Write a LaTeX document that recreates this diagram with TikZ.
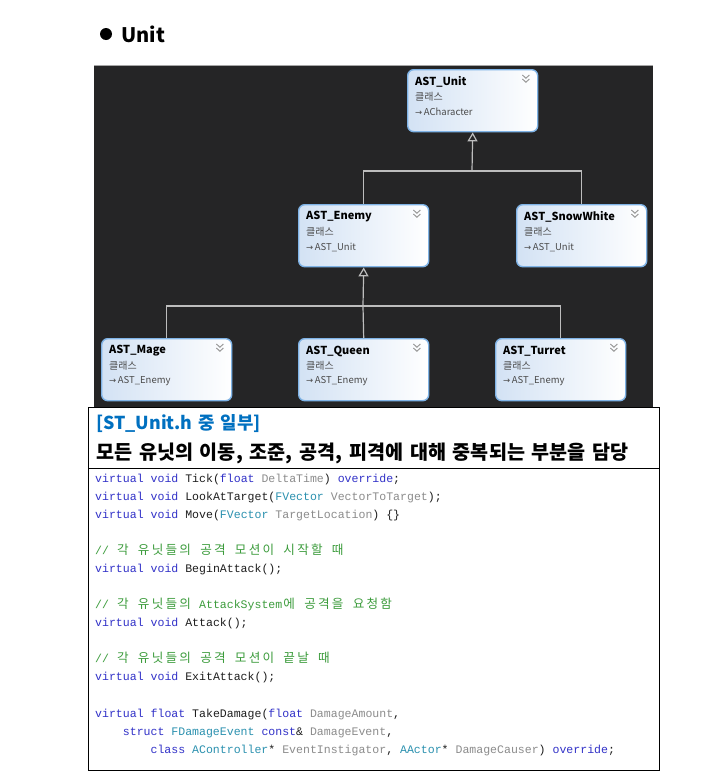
\documentclass[tikz,border=0pt]{standalone}
\usepackage{fontspec}
\usetikzlibrary{arrows.meta,calc}
\setmainfont{Noto Sans CJK KR}
\newfontfamily\kr{Noto Sans CJK KR}
\newfontfamily\monof{Liberation Mono}
\newfontfamily\symf{DejaVu Sans}
\definecolor{panel}{HTML}{252526}
\definecolor{connc}{HTML}{BDBDBD}
\definecolor{boxline}{HTML}{7FB3E6}
\definecolor{boxfill}{HTML}{D3E2F4}
\definecolor{chevc}{HTML}{9A9A9A}
\definecolor{subc}{HTML}{4A4A4A}
\definecolor{hdrblue}{HTML}{0070C0}
\definecolor{kwc}{HTML}{3232C8}
\definecolor{tyc}{HTML}{2B91AF}
\definecolor{pac}{HTML}{8C8C8C}
\definecolor{cmc}{HTML}{3C9C3C}
\definecolor{fnc}{HTML}{1E1E1E}
\newcommand\kw[1]{\textcolor{kwc}{#1}}
\newcommand\ty[1]{\textcolor{tyc}{#1}}
\newcommand\pa[1]{\textcolor{pac}{#1}}
\def\hgloop#1{\ifx#1\relax\else\makebox[13.86pt]{#1}\expandafter\hgloop\fi}
\newcommand\hg[1]{{\kr\fontsize{12.6}{12.6}\selectfont\hgloop#1\relax}}
\tikzset{
  cls/.style={draw=boxline, line width=1.4pt, rounded corners=6pt,
    left color=boxfill, right color=white, minimum width=130pt,
    minimum height=62pt, anchor=north west, inner sep=0pt},
  ctitle/.style={anchor=west, inner sep=0pt, font=\kr\bfseries\fontsize{11}{11}\selectfont, text=black},
  csub/.style={anchor=west, inner sep=0pt, font=\kr\fontsize{10}{10}\selectfont, text=subc},
  cbase/.style={anchor=west, inner sep=0pt, font=\kr\fontsize{9.5}{9.5}\selectfont, text=subc},
  chev/.style={draw=chevc, line width=1pt},
  conn/.style={draw=connc, line width=1.2pt},
  inh/.style={conn, -{Triangle[open, length=9pt, width=10pt, line width=1.2pt]}},
  code/.style={anchor=base west, inner sep=0pt, text=fnc,
    font=\monof\fontsize{11.55}{18}\selectfont},
  cmt/.style={code, text=cmc},
}
\newcommand\classnode[5]{%
  \node[cls] (#1) at (#2,#3) {};
  \node[ctitle] (#1-t) at ($(#1.north west)+(8,13)$) {#4};
  \node[csub] (#1-k) at ($(#1.north west)+(8,28)$) {클래스};
  \node[cbase] (#1-b) at ($(#1.north west)+(8,43)$) {{\symf\fontsize{8.5}{8.5}\selectfont →}\,#5};
  \draw[chev] ($(#1.north east)+(-16,6)$) -- ++(3.5,3.2) -- ++(3.5,-3.2);
  \draw[chev] ($(#1.north east)+(-16,10)$) -- ++(3.5,3.2) -- ++(3.5,-3.2);
}
\begin{document}
\begin{tikzpicture}[x=1pt,y=-1pt]
\useasboundingbox (0,0) rectangle (720,782);
\fill[white] (0,0) rectangle (720,782);
% title
\fill[black] (106,34) circle (6pt);
\node[anchor=west, inner sep=0pt, font=\kr\bfseries\fontsize{20}{20}\selectfont] (ttl) at (121,34) {Unit};
% panel
\fill[panel] (94,65) rectangle (653,407);
\draw[gray!70, line width=0.8pt] (94,65.4) -- (653,65.4);
\classnode{unit}{407}{69}{AST\_Unit}{ACharacter}
\classnode{enemy}{298}{204}{AST\_Enemy}{AST\_Unit}
\classnode{snow}{516}{204}{AST\_SnowWhite}{AST\_Unit}
\classnode{mage}{101}{338}{AST\_Mage}{AST\_Enemy}
\classnode{queen}{298}{338}{AST\_Queen}{AST\_Enemy}
\classnode{turret}{495}{338}{AST\_Turret}{AST\_Enemy}
\coordinate (j1) at (472,171);
\coordinate (j2) at (363,306);
\draw[conn] (enemy.north) |- (j1) -| (snow.north);
\draw[inh] (j1) -- (unit.south);
\draw[conn] (mage.north) |- (j2) -| (turret.north);
\draw[conn] (queen.north) -- (j2);
\draw[inh] (j2) -- (enemy.south);
% code box
\draw[black, line width=0.9pt] (88,407) rectangle (659,770);
\draw[black, line width=0.9pt] (88,468) -- (659,468);
\node[anchor=base west, inner sep=0pt, text=hdrblue, font=\kr\bfseries\fontsize{17.8}{17.8}\selectfont] (h1) at (96,429.5) {\spaceskip=6pt [ST\_Unit.h 중 일부]};
\node[anchor=base west, inner sep=0pt, text=black, font=\kr\bfseries\fontsize{19.6}{19.6}\selectfont] (h2) at (96,459.5) {\spaceskip=6.8pt 모든 유닛의 이동, 조준, 공격, 피격에 대해 중복되는 부분을 담당};
\node[code] (c1) at (95,482) {\kw{virtual void} Tick(\kw{float} \pa{DeltaTime}) \kw{override};};
\node[code] (c2) at (95,500) {\kw{virtual void} LookAtTarget(\ty{FVector} \pa{VectorToTarget});};
\node[code] (c3) at (95,518) {\kw{virtual void} Move(\ty{FVector} \pa{TargetLocation}) \{\}};
\node[cmt] (c4) at (95,554) {// \hg{각} \hg{유닛들의} \hg{공격} \hg{모션이} \hg{시작할} \hg{때}};
\node[code] (c5) at (95,572) {\kw{virtual void} BeginAttack();};
\node[cmt] (c6) at (95,608) {// \hg{각} \hg{유닛들의} AttackSystem\hg{에} \hg{공격을} \hg{요청함}};
\node[code] (c7) at (95,626) {\kw{virtual void} Attack();};
\node[cmt] (c8) at (95,662) {// \hg{각} \hg{유닛들의} \hg{공격} \hg{모션이} \hg{끝날} \hg{때}};
\node[code] (c9) at (95,680) {\kw{virtual void} ExitAttack();};
\node[code] (c10) at (95,717) {\kw{virtual float} TakeDamage(\kw{float} \pa{DamageAmount},};
\node[code] (c11) at (95,735) {\hspace*{27.7pt}\kw{struct} \ty{FDamageEvent} \kw{const}\& \pa{DamageEvent},};
\node[code] (c12) at (95,753) {\hspace*{55.4pt}\kw{class} \ty{AController}* \pa{EventInstigator}, \ty{AActor}* \pa{DamageCauser}) \kw{override};};
\end{tikzpicture}
\end{document}
